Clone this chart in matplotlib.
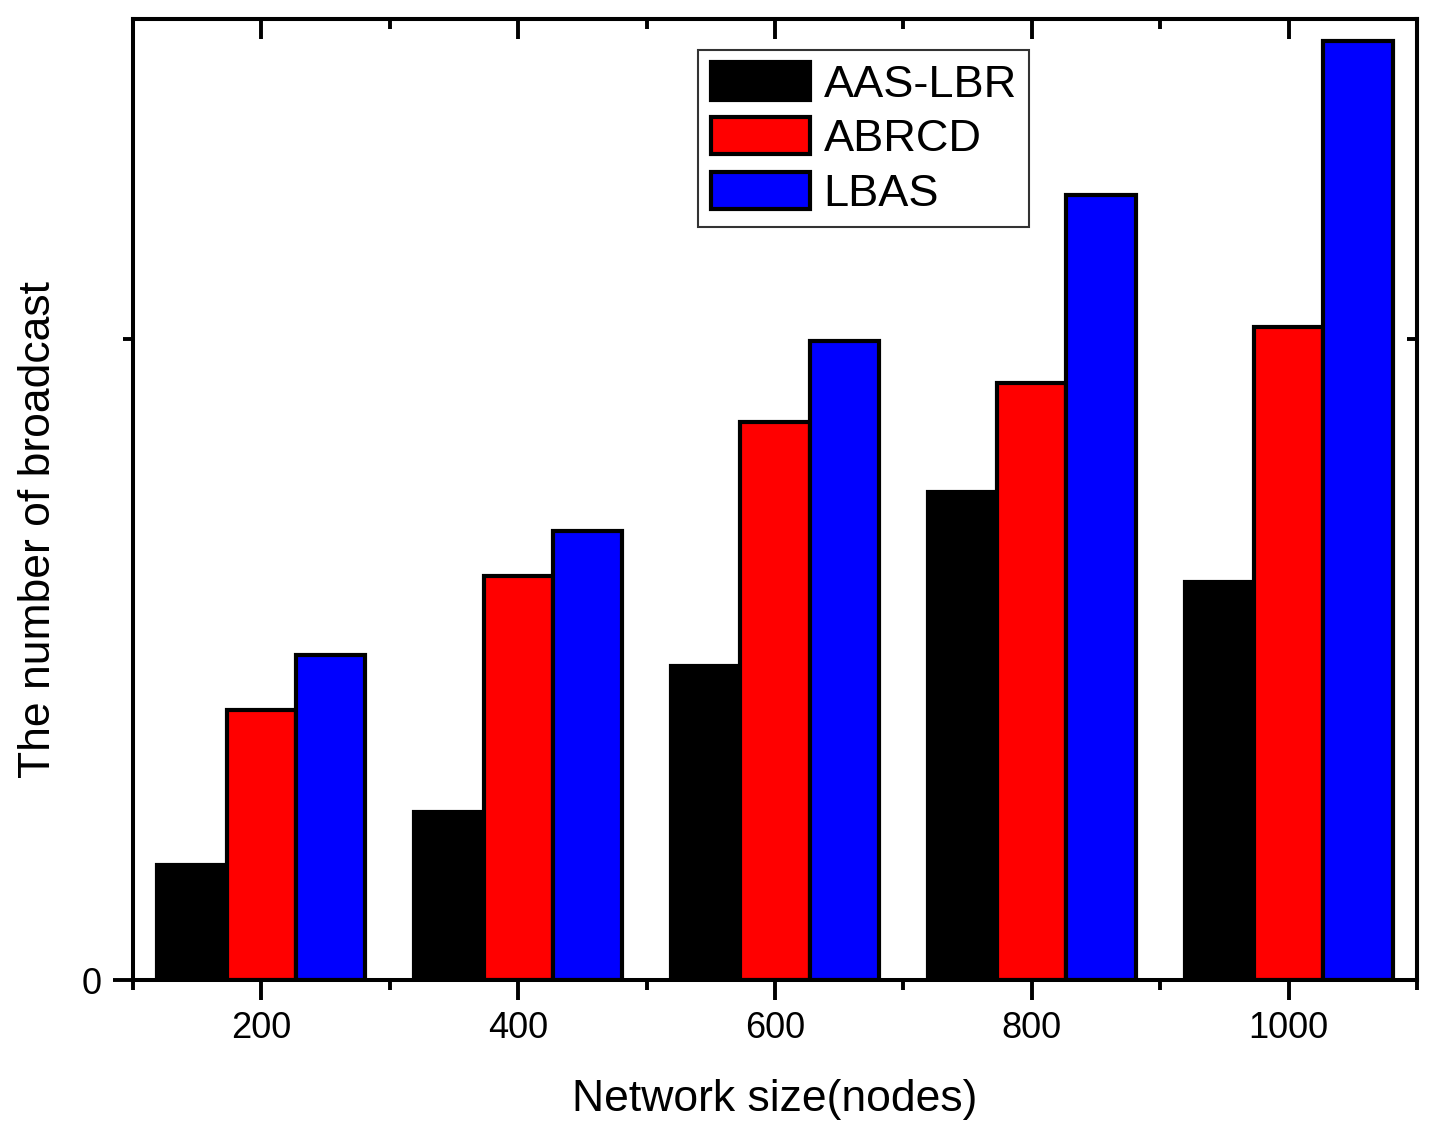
import numpy as np
import matplotlib
matplotlib.use('Agg')
import matplotlib.pyplot as plt

plt.rcParams['font.family'] = ['Liberation Sans', 'DejaVu Sans']

# dados (escala arbitraria, tick menor = 1000)
network_size = [200, 400, 600, 800, 1000]
aas_lbr = [180, 262, 490, 762, 621]
abrcd = [422, 631, 871, 932, 1020]
lbas = [507, 701, 998, 1226, 1466]

series = ['AAS-LBR', 'ABRCD', 'LBAS']
cores = ['#000000', '#ff0000', '#0000ff']

fig = plt.figure(figsize=(14.41, 11.36), dpi=100)
ax = fig.add_axes([0.0923, 0.1373, 0.891, 0.846])

x = np.array(network_size)
largura = 54
for i, (nome, valores) in enumerate(zip(series, [aas_lbr, abrcd, lbas])):
    ax.bar(x + (i - 1) * largura, valores, width=largura, color=cores[i],
           edgecolor='black', linewidth=3.0, label=nome, zorder=2)

ax.set_xlim(100, 1100)
ax.set_ylim(0, 1500)
ax.set_xticks(network_size)
ax.set_xticks([100, 300, 500, 700, 900, 1100], minor=True)
ax.set_yticks([0])
ax.set_yticks([1000], minor=True)

ax.tick_params(axis='both', which='major', direction='out', length=14.4, width=2.8,
               labelsize=26, pad=8)
ax.tick_params(axis='both', which='minor', direction='out', length=7.2, width=2.8)

for s in ax.spines.values():
    s.set_linewidth(2.9)

# ticks para dentro no topo e na direita
topo = ax.secondary_xaxis('top')
topo.set_xticks(network_size)
topo.set_xticks([100, 300, 500, 700, 900, 1100], minor=True)
topo.tick_params(which='major', direction='in', length=14.4, width=2.8, labeltop=False)
topo.tick_params(which='minor', direction='in', length=7.2, width=2.8)
topo.spines['top'].set_linewidth(2.9)

direita = ax.secondary_yaxis('right')
direita.set_yticks([0])
direita.set_yticks([1000], minor=True)
direita.tick_params(which='major', direction='in', length=14.4, width=2.8, labelright=False)
direita.tick_params(which='minor', direction='in', length=7.2, width=2.8)
direita.spines['right'].set_linewidth(2.9)

ax.set_xlabel('Network size(nodes)', fontsize=32, labelpad=24)
ax.set_ylabel('The number of broadcast', fontsize=32)
ax.yaxis.set_label_coords(-0.058, 0.469)

leg = ax.legend(loc='upper left', bbox_to_anchor=(0.44, 0.968), fontsize=32.5,
                frameon=True, fancybox=False, borderaxespad=0, borderpad=0.28,
                handlelength=2.2, handleheight=0.9, handletextpad=0.3,
                labelspacing=0.25)
leg.get_frame().set_edgecolor('black')
leg.get_frame().set_linewidth(1.5)

fig.savefig('out.png', dpi=100)
